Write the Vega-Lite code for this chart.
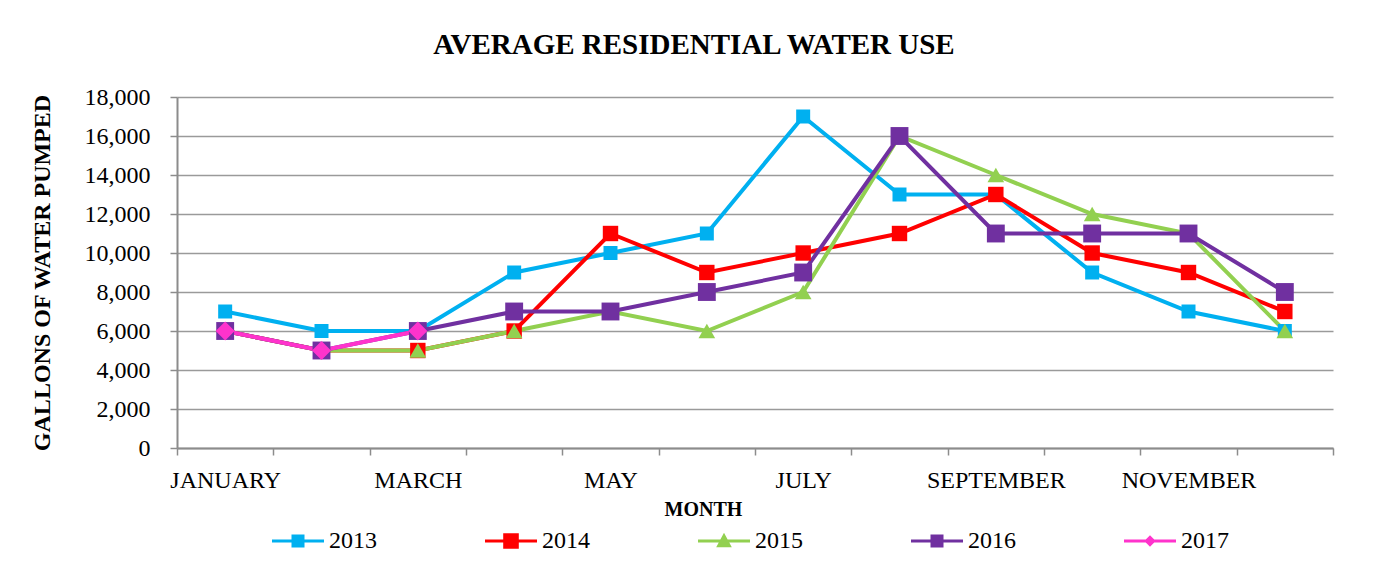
{
  "$schema": "https://vega.github.io/schema/vega-lite/v6.json",
  "autosize": "none",
  "width": 1156,
  "height": 351,
  "padding": {"left": 177, "top": 97, "right": 56, "bottom": 137},
  "background": "white",
  "config": {
    "font": "Liberation Serif",
    "view": {"stroke": null},
    "axis": {"labelFont": "Liberation Serif", "titleFont": "Liberation Serif", "labelColor": "#000", "titleColor": "#000"},
    "legend": {"labelFont": "Liberation Serif"}
  },
  "title": {
    "text": "AVERAGE RESIDENTIAL WATER USE",
    "font": "Liberation Serif",
    "fontSize": 29,
    "fontWeight": "bold",
    "color": "#000",
    "anchor": "middle",
    "dx": -61,
    "offset": 25
  },
  "data": {
    "values": [
      {"month": "JANUARY", "year": "2013", "gallons": 7000},
      {"month": "FEBRUARY", "year": "2013", "gallons": 6000},
      {"month": "MARCH", "year": "2013", "gallons": 6000},
      {"month": "APRIL", "year": "2013", "gallons": 9000},
      {"month": "MAY", "year": "2013", "gallons": 10000},
      {"month": "JUNE", "year": "2013", "gallons": 11000},
      {"month": "JULY", "year": "2013", "gallons": 17000},
      {"month": "AUGUST", "year": "2013", "gallons": 13000},
      {"month": "SEPTEMBER", "year": "2013", "gallons": 13000},
      {"month": "OCTOBER", "year": "2013", "gallons": 9000},
      {"month": "NOVEMBER", "year": "2013", "gallons": 7000},
      {"month": "DECEMBER", "year": "2013", "gallons": 6000},
      {"month": "JANUARY", "year": "2014", "gallons": 6000},
      {"month": "FEBRUARY", "year": "2014", "gallons": 5000},
      {"month": "MARCH", "year": "2014", "gallons": 5000},
      {"month": "APRIL", "year": "2014", "gallons": 6000},
      {"month": "MAY", "year": "2014", "gallons": 11000},
      {"month": "JUNE", "year": "2014", "gallons": 9000},
      {"month": "JULY", "year": "2014", "gallons": 10000},
      {"month": "AUGUST", "year": "2014", "gallons": 11000},
      {"month": "SEPTEMBER", "year": "2014", "gallons": 13000},
      {"month": "OCTOBER", "year": "2014", "gallons": 10000},
      {"month": "NOVEMBER", "year": "2014", "gallons": 9000},
      {"month": "DECEMBER", "year": "2014", "gallons": 7000},
      {"month": "JANUARY", "year": "2015", "gallons": 6000},
      {"month": "FEBRUARY", "year": "2015", "gallons": 5000},
      {"month": "MARCH", "year": "2015", "gallons": 5000},
      {"month": "APRIL", "year": "2015", "gallons": 6000},
      {"month": "MAY", "year": "2015", "gallons": 7000},
      {"month": "JUNE", "year": "2015", "gallons": 6000},
      {"month": "JULY", "year": "2015", "gallons": 8000},
      {"month": "AUGUST", "year": "2015", "gallons": 16000},
      {"month": "SEPTEMBER", "year": "2015", "gallons": 14000},
      {"month": "OCTOBER", "year": "2015", "gallons": 12000},
      {"month": "NOVEMBER", "year": "2015", "gallons": 11000},
      {"month": "DECEMBER", "year": "2015", "gallons": 6000},
      {"month": "JANUARY", "year": "2016", "gallons": 6000},
      {"month": "FEBRUARY", "year": "2016", "gallons": 5000},
      {"month": "MARCH", "year": "2016", "gallons": 6000},
      {"month": "APRIL", "year": "2016", "gallons": 7000},
      {"month": "MAY", "year": "2016", "gallons": 7000},
      {"month": "JUNE", "year": "2016", "gallons": 8000},
      {"month": "JULY", "year": "2016", "gallons": 9000},
      {"month": "AUGUST", "year": "2016", "gallons": 16000},
      {"month": "SEPTEMBER", "year": "2016", "gallons": 11000},
      {"month": "OCTOBER", "year": "2016", "gallons": 11000},
      {"month": "NOVEMBER", "year": "2016", "gallons": 11000},
      {"month": "DECEMBER", "year": "2016", "gallons": 8000},
      {"month": "JANUARY", "year": "2017", "gallons": 6000},
      {"month": "FEBRUARY", "year": "2017", "gallons": 5000},
      {"month": "MARCH", "year": "2017", "gallons": 6000}
    ]
  },
  "encoding": {
    "x": {
      "field": "month",
      "type": "nominal",
      "sort": ["JANUARY", "FEBRUARY", "MARCH", "APRIL", "MAY", "JUNE", "JULY", "AUGUST", "SEPTEMBER", "OCTOBER", "NOVEMBER", "DECEMBER"],
      "scale": {"type": "band", "paddingInner": 0, "paddingOuter": 0},
      "axis": {
        "title": "MONTH",
        "titleFontSize": 20,
        "titleFontWeight": "bold",
        "titleX": 526,
        "titleY": 67,
        "titleBaseline": "alphabetic",
        "labelAngle": 0,
        "labelFontSize": 24,
        "labelOverlap": false,
        "labelPadding": 13,
        "labelExpr": "indexof(['JANUARY','MARCH','MAY','JULY','SEPTEMBER','NOVEMBER'], datum.value) >= 0 ? datum.label : ''",
        "tickBand": "extent",
        "tickSize": 7,
        "tickColor": "#8c8c8c",
        "tickWidth": 1.5,
        "domainColor": "#8c8c8c",
        "domainWidth": 2,
        "grid": false
      }
    },
    "y": {
      "field": "gallons",
      "type": "quantitative",
      "scale": {"domain": [0, 18000], "nice": false},
      "axis": {
        "title": "GALLONS OF WATER PUMPED",
        "titleFontSize": 24,
        "titleFontWeight": "bold",
        "titlePadding": 30,
        "values": [0, 2000, 4000, 6000, 8000, 10000, 12000, 14000, 16000, 18000],
        "format": ",.0f",
        "labelFontSize": 24,
        "labelPadding": 20,
        "tickSize": 7,
        "tickColor": "#8c8c8c",
        "tickWidth": 1.5,
        "domainColor": "#8c8c8c",
        "domainWidth": 2,
        "grid": true,
        "gridColor": "#9a9a9a",
        "gridWidth": 1.5
      }
    }
  },
  "resolve": {"legend": {"color": "independent", "shape": "independent", "size": "independent"}},
  "layer": [
    {
      "mark": {"type": "line", "strokeWidth": 4},
      "encoding": {
        "color": {
          "field": "year",
          "type": "nominal",
          "scale": {
            "domain": ["2013", "2014", "2015", "2016", "2017"],
            "range": ["#00B0F0", "#FF0000", "#92D050", "#7030A0", "#FF33CC"]
          },
          "legend": {
            "title": null,
            "orient": "none",
            "legendX": 95,
            "legendY": 418,
            "direction": "horizontal",
            "columns": 5,
            "columnPadding": 108,
            "symbolSize": 2704,
            "symbolType": "M-1,-0.06H1V0.06H-1Z M-0.25,-0.25H0.25V0.25H-0.25Z",
            "symbolStrokeWidth": 0,
            "labelFontSize": 24,
            "labelFont": "Liberation Serif",
            "labelColor": "#000",
            "labelOffset": 5,
            "encode": {
              "labels": {
                "update": {
                  "font": {"value": "Liberation Serif"},
                  "fontSize": {"value": 24},
                  "fill": {"value": "#000"}
                }
              },
              "symbols": {
                "update": {
                  "shape": {"signal": "datum.value == '2015' ? 'M-1,-0.06H1V0.06H-1Z M0,-0.32L0.3,0.24H-0.3Z' : (datum.value == '2017' ? 'M-1,-0.06H1V0.06H-1Z M0,-0.22L0.22,0L0,0.22L-0.22,0Z' : (datum.value == '2014' ? 'M-1,-0.06H1V0.06H-1Z M-0.3,-0.3H0.3V0.3H-0.3Z' : 'M-1,-0.06H1V0.06H-1Z M-0.25,-0.25H0.25V0.25H-0.25Z'))"},
                  "fill": {"signal": "scale('color', datum.value)"},
                  "fillOpacity": {"value": 1},
                  "strokeWidth": {"value": 0}
                }
              }
            }
          }
        }
      }
    },
    {
      "mark": {"type": "point", "filled": true, "opacity": 1},
      "encoding": {
        "color": {
          "field": "year",
          "type": "nominal",
          "legend": null
        },
        "shape": {
          "field": "year",
          "type": "nominal",
          "scale": {"domain": ["2013", "2014", "2015", "2016", "2017"], "range": ["square", "square", "triangle-up", "square", "diamond"]},
          "legend": null
        },
        "size": {
          "field": "year",
          "type": "nominal",
          "scale": {"domain": ["2013", "2014", "2015", "2016", "2017"], "range": [196, 361, 400, 196, 256]},
          "legend": null
        }
      }
    }
  ]
}
